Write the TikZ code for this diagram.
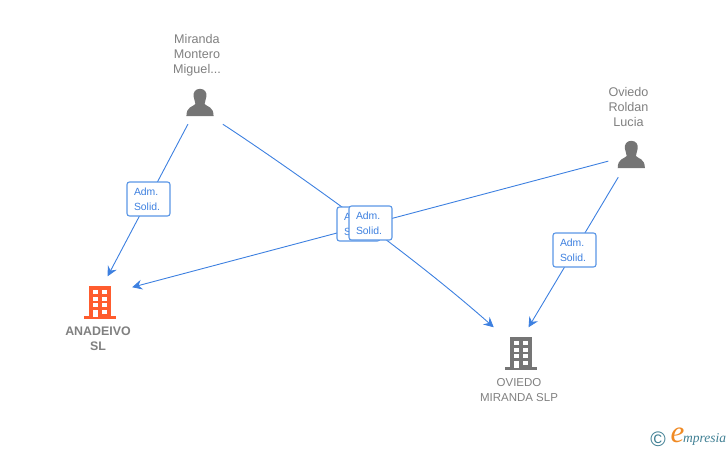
\documentclass[tikz,border=0pt]{standalone}
\usepackage{fontspec}
\setmainfont{Liberation Sans}
\newfontfamily\logofont{Liberation Serif}
\usetikzlibrary{arrows.meta}
\definecolor{linkblue}{HTML}{3D80E0}
\definecolor{boxblue}{HTML}{5A96E6}
\definecolor{namegray}{HTML}{808080}
\definecolor{icongray}{HTML}{757575}
\definecolor{firmorange}{HTML}{FF5C2E}
\definecolor{logoteal}{HTML}{3F7F93}
\definecolor{logoorange}{HTML}{F08A24}
\tikzset{
  link/.style={linkblue,line width=0.9pt,-{Stealth[length=10pt,width=10pt,inset=3.5pt]}},
  admbox/.style={draw=boxblue,line width=1.1pt,fill=white,rounded corners=2.5pt,minimum width=43pt,minimum height=34pt,inner sep=0pt,
    text=linkblue,text width=29pt,font=\fontsize{10.4}{15}\selectfont,align=left},
  personname/.style={text=namegray,font=\fontsize{12.6}{15}\selectfont,align=center,inner sep=0pt},
  firmname/.style={text=namegray,font=\bfseries\fontsize{12.4}{15}\selectfont,align=center,inner sep=0pt},
  personspot/.style={minimum width=46pt,minimum height=44pt,inner sep=0pt},
  firmspot/.style={minimum width=70pt,minimum height=40pt,inner sep=0pt},
  pics/person/.style={code={
    \fill[icongray] (0,-7.7) .. controls (4.8,-7.7) and (7,-4) .. (6.4,0)
      .. controls (6,3.5) and (4.6,5.5) .. (4.6,7.5) .. controls (7,10.5) and (13.5,9.5) .. (13.6,19.7)
      -- (-13.6,19.7) .. controls (-13.5,9.5) and (-7,10.5) .. (-4.6,7.5)
      .. controls (-4.6,5.5) and (-6,3.5) .. (-6.4,0) .. controls (-7,-4) and (-4.8,-7.7) .. (0,-7.7) -- cycle;
  }},
  pics/firm/.style={code={
    \fill[#1] (-11.3,0) rectangle (11.3,31.5);
    \fill[#1] (-16,30.5) rectangle (16,33.5);
    % windows
    \foreach \y in {4.5,11.2,17.8} {
      \fill[white] (-6.8,\y) rectangle (-2.5,\y+4);
      \fill[white] (2.3,\y) rectangle (6.8,\y+4);
    }
    \fill[white] (2.3,24) rectangle (6.8,28);
    \fill[white] (-6.8,24) rectangle (-2.5,31.5);
  }},
}
\begin{document}
\begin{tikzpicture}[x=1pt,y=-1pt]
\useasboundingbox (0,0) rectangle (728,450);

% Where the links attach
\node[personspot] (miranda) at (199.6,102) {};
\node[personspot] (oviedo) at (631.5,155) {};
\node[firmspot] (anadeivo) at (97,296.5) {};
\node[firmspot] (oviedoslp) at (516.5,347.5) {};

% Links
\draw[link] (miranda) -- (anadeivo);
\draw[link] (miranda.south east) .. controls (270,155) and (402,246) .. (oviedoslp);
\draw[link] (oviedo) -- (anadeivo);
\draw[link] (oviedo) -- (oviedoslp);

% Role boxes
\node[admbox] (admone) at (148.5,199) {Adm.\\Solid.};
\node[admbox] (admtwo) at (358.5,224) {Adm.\\Solid.};
\node[admbox] (admthree) at (370.5,223) {Adm.\\Solid.};
\node[admbox] (admfour) at (574.5,250) {Adm.\\Solid.};

% People
\pic at (200,96.5) {person};
\pic at (631.3,148.5) {person};
\node[personname] (mirandaname) at (197,55.5) {Miranda\\Montero\\Miguel...};
\node[personname] (oviedoname) at (628.5,107) {Oviedo\\Roldan\\Lucia};

% Companies
\pic at (100,285.5) {firm=firmorange};
\pic at (521,336.5) {firm=icongray};
\node[firmname] (anadeivoname) at (98,338.5) {ANADEIVO\\SL};
\node[firmname,font=\fontsize{11.5}{15}\selectfont] (oviedoslpname) at (519,390) {OVIEDO\\MIRANDA SLP};

% Logo
\node[inner sep=0pt,text=logoteal,font=\fontsize{21}{21}\selectfont] (copyright) at (658,439) {©};
\node[inner sep=0pt,text=logoorange,font=\logofont\itshape\fontsize{31}{31}\selectfont] (logoe) at (677.5,435) {e};
\node[inner sep=0pt,anchor=west,text=logoteal,font=\logofont\itshape\fontsize{13.5}{14}\selectfont] (logotext) at (683,439) {mpresia};
\end{tikzpicture}
\end{document}
